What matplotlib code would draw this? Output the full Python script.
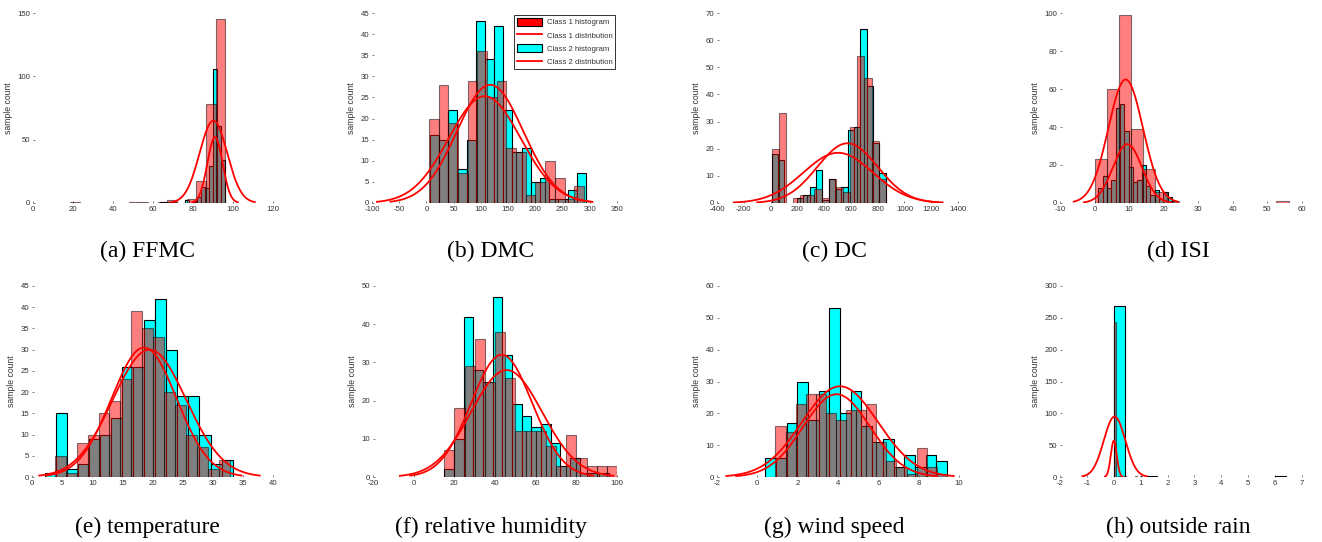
import numpy as np
import matplotlib
matplotlib.use("Agg")
import matplotlib.pyplot as plt
from matplotlib.patches import Patch
from matplotlib.lines import Line2D

# ---------------- data ----------------
titles = ["(a) FFMC", "(b) DMC", "(c) DC", "(d) ISI",
          "(e) temperature", "(f) relative humidity", "(g) wind speed", "(h) outside rain"]

# FFMC
ffmc_c1_range = (18.7, 96.2)
ffmc_c1_counts = [1, 0, 0, 0, 0, 0, 1, 1, 0, 1, 2, 0, 3, 17, 78, 145]
ffmc_c2_range = (63.5, 96.2)
ffmc_c2_counts = [1, 1, 1, 1, 0, 0, 2, 0, 1, 5, 13, 12, 29, 106, 61, 34]
ffmc_fit = [(90.2, 6.9, 65), (91.0, 3.8, 52)]
ffmc_xticks = [0, 20, 40, 60, 80, 100, 120]
ffmc_yticks = [0, 50, 100, 150]

# DMC
dmc_c1_range = (4.9, 289.1)
dmc_c1_counts = [20, 28, 19, 7, 29, 36, 25, 29, 13, 12, 2, 5, 10, 6, 1, 4]
dmc_c2_range = (6.1, 293.1)
dmc_c2_counts = [16, 15, 22, 8, 15, 43, 34, 42, 22, 12, 13, 5, 6, 1, 1, 3, 7]
dmc_fit = [(107, 66, 25.3), (117, 61, 28)]
dmc_xticks = [-100, -50, 0, 50, 100, 150, 200, 250, 300, 350]
dmc_yticks = [0, 5, 10, 15, 20, 25, 30, 35, 40, 45]

# DC
dc_c1_range = (7.9, 860.6)
dc_c1_counts = [20, 33, 0, 2, 3, 3, 5, 2, 9, 6, 4, 28, 54, 46, 23, 9]
dc_c2_range = (7.9, 860.6)
dc_c2_counts = [18, 16, 0, 0, 2, 3, 6, 12, 1, 9, 5, 6, 27, 28, 64, 43, 22, 11]
dc_fit = [(505, 260, 18.5), (575, 225, 22)]
dc_xticks = [-400, -200, 0, 200, 400, 600, 800, 1000, 1200, 1400]
dc_yticks = [0, 10, 20, 30, 40, 50, 60, 70]

# ISI
isi_c1_range = (0.0, 56.1)
isi_c1_counts = [23, 60, 99, 39, 18, 6, 1, 0, 0, 0, 0, 0, 0, 0, 0, 1]
isi_c2_range = (1.1, 23.7)
isi_c2_counts = [8, 14, 8, 12, 50, 52, 38, 19, 11, 12, 20, 9, 4, 7, 2, 6, 3, 1]
isi_fit = [(9.0, 5.0, 65), (9.5, 4.2, 31)]
isi_xticks = [-10, 0, 10, 20, 30, 40, 50, 60]
isi_yticks = [0, 20, 40, 60, 80, 100]

# temperature
temp_c1_range = (3.8, 32.8)
temp_c1_counts = [5, 1, 8, 10, 15, 18, 23, 39, 35, 33, 20, 17, 10, 7, 2, 4]
temp_c2_range = (2.1, 33.3)
temp_c2_counts = [1, 15, 2, 3, 9, 10, 14, 26, 26, 37, 42, 30, 19, 19, 10, 3, 4]
temp_fit = [(18.6, 5.4, 30.5), (19.5, 6.1, 30)]
temp_xticks = [0, 5, 10, 15, 20, 25, 30, 35, 40]
temp_yticks = [0, 5, 10, 15, 20, 25, 30, 35, 40, 45]

# relative humidity
rh_c1_range = (15, 100)
rh_c1_counts = [7, 18, 29, 36, 25, 38, 26, 12, 12, 12, 8, 3, 11, 5, 3, 3, 3]
rh_c2_range = (15, 96)
rh_c2_counts = [2, 10, 42, 28, 25, 47, 32, 19, 16, 13, 14, 9, 3, 5, 1, 1, 1]
rh_fit = [(45.7, 17.5, 28), (43.3, 15, 32)]
rh_xticks = [-20, 0, 20, 40, 60, 80, 100]
rh_yticks = [0, 10, 20, 30, 40, 50]

# wind speed
wind_c1_range = (0.9, 9.4)
wind_c1_counts = [16, 14, 23, 26, 26, 20, 18, 21, 21, 23, 11, 5, 3, 1, 9, 3, 1]
wind_c2_range = (0.4, 9.4)
wind_c2_counts = [6, 6, 17, 30, 18, 27, 53, 20, 27, 16, 11, 12, 3, 7, 3, 7, 5]
wind_fit = [(4.1, 1.88, 28.5), (3.93, 1.66, 26)]
wind_xticks = [-2, 0, 2, 4, 6, 8, 10]
wind_yticks = [0, 10, 20, 30, 40, 50, 60]

# outside rain
rain_c1_range = (0.0, 1.4)
rain_c1_counts = [243, 0, 1, 0, 1, 0, 0, 0, 0, 1, 0, 1, 0, 0, 0, 0]
rain_c2_range = (0.0, 6.4)
rain_c2_counts = [268, 0, 0, 1, 0, 0, 0, 0, 0, 0, 0, 0, 0, 0, 0, 1]
rain_fit = [(0.03, 0.40, 95), (0.0, 0.11, 57)]
rain_xticks = [-2, -1, 0, 1, 2, 3, 4, 5, 6, 7]
rain_yticks = [0, 50, 100, 150, 200, 250, 300]

panels = [
    (ffmc_c1_range, ffmc_c1_counts, ffmc_c2_range, ffmc_c2_counts, ffmc_fit, ffmc_xticks, ffmc_yticks),
    (dmc_c1_range, dmc_c1_counts, dmc_c2_range, dmc_c2_counts, dmc_fit, dmc_xticks, dmc_yticks),
    (dc_c1_range, dc_c1_counts, dc_c2_range, dc_c2_counts, dc_fit, dc_xticks, dc_yticks),
    (isi_c1_range, isi_c1_counts, isi_c2_range, isi_c2_counts, isi_fit, isi_xticks, isi_yticks),
    (temp_c1_range, temp_c1_counts, temp_c2_range, temp_c2_counts, temp_fit, temp_xticks, temp_yticks),
    (rh_c1_range, rh_c1_counts, rh_c2_range, rh_c2_counts, rh_fit, rh_xticks, rh_yticks),
    (wind_c1_range, wind_c1_counts, wind_c2_range, wind_c2_counts, wind_fit, wind_xticks, wind_yticks),
    (rain_c1_range, rain_c1_counts, rain_c2_range, rain_c2_counts, rain_fit, rain_xticks, rain_yticks),
]

# ---------------- layout ----------------
plt.rcParams["font.family"] = ["Liberation Sans", "DejaVu Sans"]
plt.rcParams["axes.unicode_minus"] = False

W, H = 1322, 542
fig = plt.figure(figsize=(W / 100, H / 100), dpi=100)

col_px = [[(33, 273), (372, 617), (717, 958), (1060, 1302)],
          [(32, 273), (373, 617), (717, 959), (1060, 1302)]]
row_px = [(13, 203), (286, 477)]
caption_x = [147, 491, 834, 1178]
caption_base = [257, 533]

SMALL = 5.6
TICKC = "#333333"


def draw_hist(ax, rng, counts, **kw):
    edges = np.linspace(rng[0], rng[1], len(counts) + 1)
    c = np.asarray(counts, dtype=float)
    m = c > 0
    ax.bar(edges[:-1][m], c[m], width=np.diff(edges)[m], align="edge", **kw)


for i, (r1, c1, r2, c2, fits, xt, yt) in enumerate(panels):
    row, col = divmod(i, 4)
    (x0, x1) = col_px[row][col]
    (yt_px, yb_px) = row_px[row]
    ax = fig.add_axes([x0 / W, 1 - yb_px / H, (x1 - x0) / W, (yb_px - yt_px) / H])

    draw_hist(ax, r2, c2, color="cyan", edgecolor="black", linewidth=0.8, zorder=2)
    draw_hist(ax, r1, c1, color="red", edgecolor="black", linewidth=0.8, alpha=0.5, zorder=3)
    for mu, sd, pk in fits:
        xs = np.linspace(mu - 3 * sd, mu + 3 * sd, 300)
        ax.plot(xs, pk * np.exp(-0.5 * ((xs - mu) / sd) ** 2), color="red", lw=1.3, zorder=4)

    ax.set_xlim(xt[0], xt[-1])
    ax.set_ylim(yt[0], yt[-1])
    ax.set_xticks(xt)
    ax.set_yticks(yt)
    for s in ax.spines.values():
        s.set_visible(False)
    ax.tick_params(direction="in", length=1.6, width=0.6, color="#666666",
                   labelsize=SMALL, labelcolor=TICKC)
    ax.tick_params(axis="x", pad=2.5)
    ax.tick_params(axis="y", pad=2.0)
    ax.set_ylabel("sample count", fontsize=6.2, color=TICKC, labelpad=3)
    ax.patch.set_alpha(0)

    fig.text(caption_x[col] / W, 1 - caption_base[row] / H, titles[i],
             family=["Liberation Serif", "DejaVu Serif"], fontsize=17,
             ha="center", va="baseline")

    if i == 1:
        handles = [Patch(facecolor="red", edgecolor="black", linewidth=0.8),
                   Line2D([0], [0], color="red", lw=1.3),
                   Patch(facecolor="cyan", edgecolor="black", linewidth=0.8),
                   Line2D([0], [0], color="red", lw=1.3)]
        labels = ["Class 1 histogram", "Class 1 distribution",
                  "Class 2 histogram", "Class 2 distribution"]
        leg = ax.legend(handles, labels, loc="upper right", fontsize=SMALL,
                        frameon=True, fancybox=False, edgecolor="black",
                        borderaxespad=0.2, handlelength=3.2, handleheight=1.2,
                        labelspacing=0.6, borderpad=0.4, handletextpad=0.6)
        leg.get_frame().set_linewidth(0.7)
        for t in leg.get_texts():
            t.set_color(TICKC)

fig.savefig("out.png", dpi=100)
